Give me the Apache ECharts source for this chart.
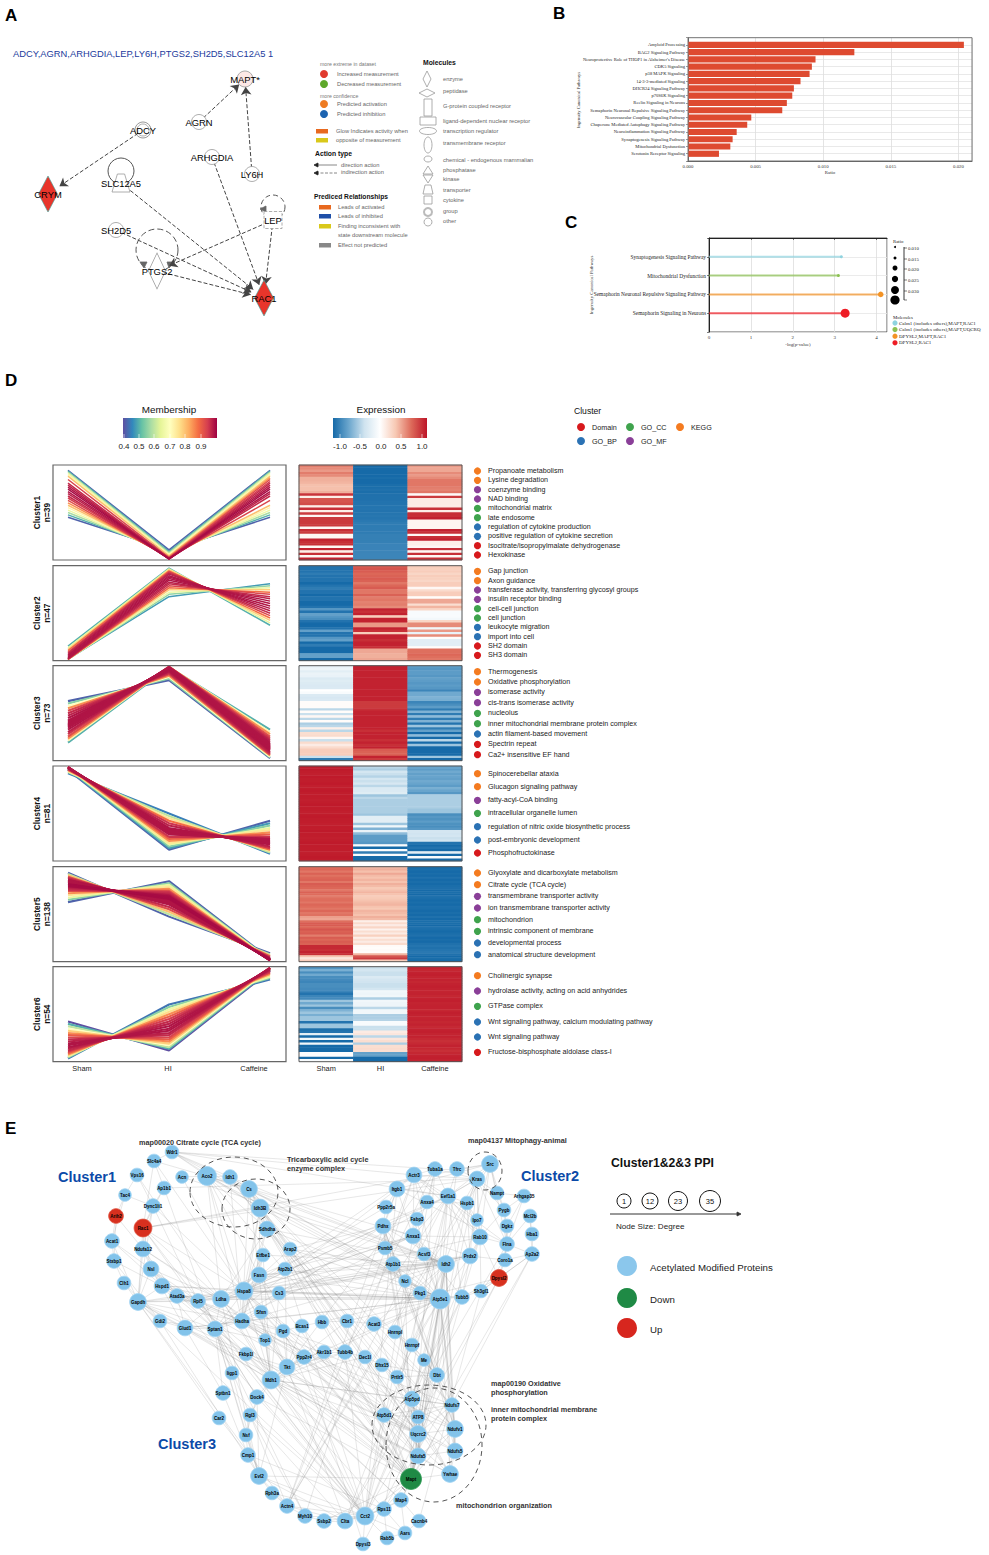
<!DOCTYPE html>
<html><head><meta charset="utf-8">
<script src="https://cdn.jsdelivr.net/npm/echarts@6/dist/echarts.min.js"></script>
<style>html,body{margin:0;padding:0;background:#fff}#c{width:989px;height:1555px}</style></head>
<body><div id="c"></div>
<script>
/* ---------- Panel A network ---------- */
const ipaNodes = [
 ['MAPT*',245,79,'m'],['AGRN',199,122,'o'],['ADCY',143,130,'g'],['ARHGDIA',212,157,'o'],['LY6H',252,174,'o'],
 ['CRYM',48,194,'r'],['SLC12A5',121,183,'t'],['SH2D5',116,230,'o'],['LEP',273,220,'c'],['PTGS2',157,271,'e'],['RAC1',264,298,'r']];
const ipaLinks = [[2,5],[1,0],[4,0],[3,10],[6,10],[7,10],[9,10],[8,10],[8,9]];
/* ---------- Panel B ---------- */
const pathwayNames = ['Amyloid Processing','BAG2 Signaling Pathway',"Neuroprotective Role of THOP1 in Alzheimer's Disease",'CDK5 Signaling','p38 MAPK Signaling','14-3-3-mediated Signaling','DHCR24 Signaling Pathway','p70S6K Signaling','Reelin Signaling in Neurons','Semaphorin Neuronal Repulsive Signaling Pathway','Neurovascular Coupling Signaling Pathway','Chaperone Mediated Autophagy Signaling Pathway','Neuroinflammation Signaling Pathway','Synaptogenesis Signaling Pathway','Mitochondrial Dysfunction','Serotonin Receptor Signaling'];
const pathwayRatios = [.0204,.0123,.00943,.00916,.00899,.00832,.00783,.00771,.00731,.00697,.00468,.00438,.0036,.0033,.00313,.00229];
/* ---------- Panel C ---------- */
const lolliNames = ['Synaptogenesis Signaling Pathway','Mitochondrial Dysfunction','Semaphorin Neuronal Repulsive Signaling Pathway','Semaphorin Signaling in Neurons'];
const lolliLogP = [3.16,3.09,4.1,3.25];
const lolliRatio = [.010,.010,.021,.034];
const lolliColors = ['#8fd3df','#8cc152','#f39325','#ee1c25'];
const lolliMolecules = ['Calm1 (includes others),MAPT,RAC1','Calm1 (includes others),MAPT,UQCRQ','DPYSL2,MAPT,RAC1','DPYSL2,RAC1'];
/* ---------- Panel D: profile lines [membership, Sham, HI, Caffeine] ---------- */
const lines1 = [[.42,1.05,-.93,-.12],[.5,1.03,-.97,-.06],[.58,1,-1,0],[.66,.97,-1.03,.06],[.72,.93,-1.05,.12],[.8,.9,-1.08,.18],[.93,.82,-1.12,.3],[.96,.73,-1.14,.41],[.97,.68,-1.15,.47],[.98,.63,-1.15,.52],[.99,.58,-1.15,.58],[.98,.52,-1.15,.63],[.97,.47,-1.15,.68],[.96,.41,-1.14,.73],[.94,.36,-1.13,.77],[.92,.3,-1.12,.82],[.85,.24,-1.1,.86],[.8,.18,-1.08,.9],[.72,.12,-1.05,.93],[.66,.06,-1.03,.97],[.58,0,-1,1],[.5,-.06,-.97,1.03],[.42,-.12,-.93,1.05]];
const lines2 = [[.5,-.82,1.12,-.3],[.65,-.86,1.1,-.24],[.78,-.9,1.08,-.18],[.88,-.93,1.05,-.12],[.93,-.97,1.03,-.06],[.96,-1,1,0],[.97,-1.03,.97,.06],[.98,-1.05,.93,.12],[.98,-1.08,.9,.18],[.98,-1.1,.86,.24],[.98,-1.12,.82,.3],[.97,-1.13,.77,.36],[.96,-1.14,.73,.41],[.93,-1.15,.68,.47],[.88,-1.15,.63,.52],[.78,-1.15,.58,.58],[.66,-1.15,.52,.63],[.56,-1.15,.47,.68],[.48,-1.14,.41,.73]];
const lines3 = [[.42,.3,.82,-1.12],[.55,.24,.86,-1.1],[.7,.18,.9,-1.08],[.85,.12,.93,-1.05],[.93,.06,.97,-1.03],[.96,0,1,-1],[.97,-.06,1.03,-.97],[.98,-.12,1.05,-.93],[.98,-.18,1.08,-.9],[.98,-.21,1.09,-.88],[.98,-.24,1.1,-.86],[.98,-.27,1.11,-.84],[.98,-.3,1.12,-.82],[.98,-.33,1.125,-.8],[.98,-.36,1.13,-.77],[.98,-.41,1.14,-.73],[.97,-.47,1.15,-.68],[.95,-.52,1.15,-.63],[.92,-.58,1.15,-.58],[.85,-.63,1.15,-.52],[.72,-.68,1.15,-.47],[.5,-.73,1.14,-.41]];
const lines4 = [[.45,1,0,-1],[.6,1.03,-.06,-.97],[.75,1.05,-.12,-.93],[.88,1.08,-.18,-.9],[.95,1.1,-.24,-.86],[.97,1.12,-.3,-.82],[.98,1.13,-.36,-.77],[.98,1.135,-.39,-.75],[.98,1.14,-.41,-.73],[.98,1.145,-.44,-.7],[.98,1.15,-.47,-.68],[.98,1.15,-.5,-.65],[.98,1.15,-.52,-.63],[.95,1.15,-.58,-.58],[.9,1.15,-.63,-.52],[.85,1.15,-.68,-.47],[.75,1.14,-.73,-.41],[.65,1.13,-.77,-.36],[.55,1.12,-.82,-.3],[.48,1.1,-.86,-.24],[.42,1.08,-.9,-.18]];
const lines5 = [[.42,1.03,-.06,-.97],[.6,1,0,-1],[.8,.97,.06,-1.03],[.92,.93,.12,-1.05],[.96,.9,.18,-1.08],[.98,.86,.24,-1.1],[.98,.84,.27,-1.11],[.98,.82,.3,-1.12],[.98,.8,.33,-1.13],[.98,.77,.36,-1.13],[.99,.75,.38,-1.13],[.99,.73,.41,-1.14],[.99,.7,.44,-1.14],[.98,.68,.47,-1.15],[.97,.66,.49,-1.15],[.96,.63,.52,-1.15],[.95,.6,.55,-1.15],[.92,.58,.58,-1.15],[.85,.52,.63,-1.15],[.75,.47,.68,-1.15],[.65,.41,.73,-1.14],[.55,.36,.77,-1.13],[.42,.3,.82,-1.12]];
const lines6 = [[.4,-.18,-.9,1.08],[.5,-.24,-.86,1.1],[.6,-.3,-.82,1.12],[.7,-.36,-.77,1.13],[.78,-.41,-.73,1.14],[.85,-.47,-.68,1.15],[.9,-.52,-.63,1.15],[.93,-.58,-.58,1.15],[.96,-.63,-.52,1.15],[.97,-.68,-.47,1.15],[.98,-.73,-.41,1.14],[.98,-.77,-.36,1.13],[.98,-.82,-.3,1.12],[.97,-.86,-.24,1.1],[.96,-.9,-.18,1.08],[.94,-.93,-.12,1.05],[.9,-.97,-.06,1.03],[.85,-1,0,1],[.76,-1.03,.06,.97],[.66,-1.05,.12,.93],[.55,-1.08,.18,.9],[.44,-1.1,.24,.86]];
/* ---------- Panel D: heat map rows ---------- */
const heat1Sham=[.6,.55,.5,.6,.55,.42,.42,.4,.36,.36,.36,.42,.88,.1,.75,.75,.78,.1,.9,.1,.85,.05,.85,.85,.85,.85,.05,.9,.85,.05,.05,.95,.9,.9,.05,.95,.1,.9,.05,.95];
const heat1HI=[-1,-1,-1,-1,-1,-.98,-1,-1,-.98,-.98,-.96,-.98,-.96,-.96,-.96,-.95,-.95,-.94,-.94,-.95,-.94,-.93,-.94,-.92,-.9,-.9,-.9,-.9,-.9,-.88,-.88,-.88,-.88,-.86,-.86,-.86,-.85,-.85,-.85,-.85];
const heat1Caf=[.5,.45,.45,.55,.5,.55,.62,.62,.62,.6,.58,.62,.03,.85,.12,.12,.12,.12,.9,.1,.9,.9,.95,.06,.06,.06,.06,.95,.9,.05,.9,.95,.1,.1,.05,.9,.05,.9,.05,.9];
const heat2Sham=[-.95,-.95,-.95,-.9,-.95,-.95,-.95,-1,-.95,-.9,-.95,-.95,-1,-.95,-.95,-1,-1,-.95,-.75,-.95,-.7,-.75,-.8,-.95,-1,-1,-.95,-.7,-.95,-.95,-.75,-.7,-1,-.9,-1,-1,-1,-.7,-.7,-1];
const heat2HI=[.72,.75,.72,.68,.7,.72,.7,.62,.68,.72,.62,.62,.7,.6,.62,.58,.6,.55,.95,.9,.95,.3,.95,.95,.5,.5,.95,.9,.3,.95,.95,.9,.95,.95,.9,.45,.45,.42,.42,.45];
const heat2Caf=[.3,.28,.3,.25,.3,.28,.25,.3,.3,.05,.22,.3,.3,.02,.45,.45,.2,.4,.25,-.05,-.05,-.05,-.08,.25,.55,.55,-.1,.5,-.15,.55,.02,-.2,-.2,-.2,.02,.65,.65,.68,.65,.62];
const heat3Sham=[-.15,-.12,-.2,-.14,-.15,-.25,-.22,-.24,-.26,-.25,0,-.05,-.25,-.28,-.26,.02,.02,.02,-.4,.02,-.35,.05,-.4,.02,-.45,-.4,.1,-.4,.2,.22,.05,-.35,.22,.12,.22,.3,.3,.3,-.35,-.9];
const heat3HI=[.95,.95,.95,.95,.95,.95,.95,.95,.95,.95,.95,.95,.95,.95,.95,.85,.85,.85,.9,.95,.95,.95,.95,.95,.95,.95,.95,.9,.95,.95,.95,.9,.95,.9,.95,.72,.7,.7,.95,.85];
const heat3Caf=[-.72,-.75,-.72,-.72,-.75,-.7,-.72,-.75,-.72,-.75,-.85,-.65,-.65,-.6,-.62,-.85,-.8,-.72,-.9,-.6,-.9,-.55,-.9,-.6,-.95,-.5,-.9,-.7,-1,-.55,-1,-.4,-1,-.5,-1,-1,-1,-1,-.5,-1];
const heat4Sham=[.97,.98,.97,.96,.98,.97,.97,.98,.96,.97,.98,.97,.97,.97,.96,.97,.98,.97,.97,.96,.97,.98,.97,.97,.96,.97,.97,.98,.97,.97,.96,.97,.98,.97,.97,.97,.96,.97,.98,.97];
const heat4HI=[-.4,-.45,-.3,-.35,-.42,-.3,-.35,-.28,-.4,-.25,-.25,-.22,-.5,-.4,-.45,-.45,-.45,-.45,-.45,-.45,-.5,-.2,-.2,-.2,-.5,-.1,-.6,-.15,-.55,-.72,-.72,-.72,-.75,-.05,-1,-.05,-.9,-.05,-1,-1];
const heat4Caf=[-.68,-.72,-.65,-.7,-.68,-.7,-.65,-.68,-.72,-.62,-.68,-.75,-.45,-.45,-.45,-.45,-.45,-.45,-.5,-.5,-.8,-.75,-.78,-.72,-.78,-.8,-.75,-.3,-.32,-.3,-.35,-.3,-.95,-1,-.95,-1,-.2,-1,-.05,-1];
const heat5Sham=[.66,.68,.62,.7,.64,.68,.7,.62,.72,.7,.68,.62,.7,.66,.6,.65,.66,.62,.68,.66,.62,.68,.62,.64,.48,.45,.65,.72,.72,.68,.75,.7,.72,.6,.72,.68,.72,.7,.92,.92,.9,.95,.9,.35,.15,.3];
const heat5HI=[.38,.42,.36,.45,.38,.35,.4,.35,.42,.38,.32,.36,.4,.35,.3,.32,.35,.38,.4,.35,.32,.4,.38,.35,.42,.38,.1,.22,.12,.25,.08,.2,.12,.28,.1,.2,.12,.22,.03,.02,.03,.02,.4,.75,.85,.3];
const heat5Caf=[-1,-.98,-1,-.98,-1,-.96,-1,-.98,-1,-.98,-.97,-1,-.98,-1,-.96,-.98,-1,-.98,-1,-.97,-.98,-1,-.98,-1,-.96,-1,-.98,-.98,-1,-.96,-.98,-1,-.98,-.96,-1,-.98,-1,-.96,-.94,-.96,-.94,-.92,-.96,-1,-.98,-1];
const heat6Sham=[-.8,-.62,-.8,-.65,-.8,-.82,-.85,-.8,-.8,-.82,-.85,-.95,-.85,-.82,-.5,-.65,-.5,-.8,-.6,-.5,-.62,-.5,-.5,-.95,-.5,-.5,-.98,-.95,-.2,-1,-.1,-1,-.1,-1,-1,-1,-.02,-.02,-1,-.05];
const heat6HI=[-.35,-.3,-.35,-.35,-.25,-.3,-.32,-.35,-.35,-.3,-.1,-.12,-.1,-.45,-.1,-.12,-.12,-.4,-.1,-.1,-.45,-.45,-.42,-.05,-.05,-.35,-.35,.12,.15,-.4,.15,.2,-.45,.2,.22,.2,-.7,-.7,-1,-1];
const heat6Caf=[.95,.93,.95,.96,.94,.95,.93,.95,.96,.95,.94,.95,.93,.95,.96,.94,.95,.95,.93,.96,.95,.94,.95,.93,.95,.92,.95,.96,.94,.95,.92,.9,.92,.95,.93,.9,.93,.95,.96,.95];
/* ---------- Panel D: enrichment terms [label, database] ---------- */
const terms1=[['Propanoate metabolism','K'],['Lysine degradation','K'],['coenzyme binding','M'],['NAD binding','M'],['mitochondrial matrix','C'],['late endosome','C'],['regulation of cytokine production','B'],['positive regulation of cytokine secretion','B'],['Isocitrate/isopropylmalate dehydrogenase','D'],['Hexokinase','D']];
const terms2=[['Gap junction','K'],['Axon guidance','K'],['transferase activity, transferring glycosyl groups','M'],['insulin receptor binding','M'],['cell-cell junction','C'],['cell junction','C'],['leukocyte migration','B'],['import into cell','B'],['SH2 domain','D'],['SH3 domain','D']];
const terms3=[['Thermogenesis','K'],['Oxidative phosphorylation','K'],['isomerase activity','M'],['cis-trans isomerase activity','M'],['nucleolus','C'],['inner mitochondrial membrane protein complex','C'],['actin filament-based movement','B'],['Spectrin repeat','D'],['Ca2+ insensitive EF hand','D']];
const terms4=[['Spinocerebellar ataxia','K'],['Glucagon signaling pathway','K'],['fatty-acyl-CoA binding','M'],['intracellular organelle lumen','C'],['regulation of nitric oxide biosynthetic process','B'],['post-embryonic development','B'],['Phosphofructokinase','D']];
const terms5=[['Glyoxylate and dicarboxylate metabolism','K'],['Citrate cycle (TCA cycle)','K'],['transmembrane transporter activity','M'],['ion transmembrane transporter activity','M'],['mitochondrion','C'],['intrinsic component of membrane','C'],['developmental process','B'],['anatomical structure development','B']];
const terms6=[['Cholinergic synapse','K'],['hydrolase activity, acting on acid anhydrides','M'],['GTPase complex','C'],['Wnt signaling pathway, calcium modulating pathway','B'],['Wnt signaling pathway','B'],['Fructose-bisphosphate aldolase class-I','D']];
const groupLabels=['Sham','HI','Caffeine'];
const clusterSizes=[39,47,73,81,138,54];
/* ---------- Panel E network: [name, layout x, layout y, degree size, group] ---------- */
const ppiNodes=[['Wdr1',172,1152,13],['Slc4a4',154,1161,13],['Vps16',137,1175,13],['Acn',182,1177,12],['Aco2',207,1176,18],['Idh1',230,1177,14],['Cs',249,1189,16],['Idh3B',260,1208,17],['Sdhdha',267,1229,15],['Ap1b1',164,1188,13],['Tac4',125,1195,12],['Dync1li1',153,1206,14],['Arih2',116,1216,14,'u'],['Rac1',143,1228,17,'u'],['Acat1',112,1241,14],['Ndufa12',143,1249,15],['Arap2',290,1249,13],['Etfbe1',263,1255,13],['Stxbp1',114,1261,14],['Nsl',151,1269,15],['Atp2b1',285,1269,13],['Fasn',259,1275,15],['Clh1',124,1283,13],['Hspd1',162,1286,15],['Cs3',279,1293,13],['Hspa8',244,1291,17],['Gapdh',138,1302,16],['Atad3a',177,1296,14],['Rpl5',198,1301,14],['Ldha',221,1299,16],['Sfxn',261,1312,13],['Gdi2',160,1321,13],['Glud1',185,1328,15],['Sptan1',215,1329,15],['Hadha',242,1321,15],['Pgd',283,1331,13],['Bcas1',302,1326,13],['Top1',265,1340,12],['Hbb',322,1322,13],['Cbr1',347,1321,13],['Acat3',374,1324,14],['Hnrnpl',395,1332,13],
['Src',490,1164,16],['Tfrc',457,1169,14],['Tuba1a',435,1169,14],['Actr3',414,1175,15],['Kras',477,1179,15],['Nampt',497,1193,13],['Arhgap35',524,1196,13],['Itgb1',397,1189,15],['Eef1a1',448,1196,15],['Anxa4',427,1202,13],['Hspb1',467,1203,13],['Ppp2r5a',386,1207,13],['Pygb',504,1210,13],['Mcl2b',530,1216,13],['Ipo7',477,1220,12],['Fabp3',417,1219,13],['Pdhx',383,1226,15],['Dgkz',507,1226,13],['Hba1',532,1234,13],['Anxa1',413,1236,15],['Rab10',480,1237,15],['Flna',507,1244,14],['Psmb5',385,1248,13],['Ap2a2',532,1254,14],['Acsf3',424,1254,13],['Prdx2',470,1256,15],['Coro1a',505,1260,13],['Atp1b1',393,1264,14],['Idh2',446,1264,16],['Dpysl2',499,1278,16,'u'],['Ncl',405,1281,12],['Sh3gl1',481,1291,13],['Pkg1',420,1293,13],['Atp5e1',440,1299,19],['Tubb5',462,1297,14],
['Fkbp1l',246,1354,13],['Ppp2r4',304,1357,14],['Akr1b1',324,1352,13],['Tubb4b',345,1352,14],['Dec1l',365,1357,13],['Dhx15',382,1365,13],['Hnrnpf',412,1345,13],['Me',424,1360,12],['Dbt',437,1375,14],['Prtlr5',397,1377,13],['Tkt',287,1367,15],['Mdh1',271,1380,17],['Iigp1',232,1373,13],['Sptbn1',223,1393,14],['Dock4',257,1397,14],['Car2',219,1418,13],['Rgl3',250,1415,13],['Nsf',246,1435,13],['Cmp1',248,1455,14],['Evl2',259,1476,16],['Rph3a',272,1493,13],['Actn4',287,1506,14],['Myh10',305,1516,14],['Ssbp2',324,1521,14],['Clta',345,1521,15],['Cct2',365,1516,17],['Dpysl3',363,1544,13],['Rps11',384,1509,14],['Rab5b',387,1538,13],['Aars',405,1533,13],['Map4',401,1500,14],['Cacnb4',419,1521,13],['Mapt',411,1479,20,'d'],['Ywhae',450,1474,16],['Ndufa5',418,1456,15],['Ndufs5',455,1451,15],['Uqcrc2',418,1434,16],['Ndufv1',455,1429,16],['ATP8',418,1417,13],['Atp5d1',384,1415,14],['Atp5pd',412,1399,15],['Ndufs7',452,1405,14]];
const ppiAdjacency=[[0,[1,4,5,6,7,45,44,50,75]],[1,[9,13,25,61]],[2,[10,11,29]],[3,[4,25,70]],[4,[5,6,7,8,29,34,70,75,25,113,21]],[5,[6,7,8,70,75,34,113]],[6,[7,8,21,34,70,75,85,109,113,118]],[7,[8,21,25,34,70,75,111,113,114,117]],[8,[25,29,34,70,75,109,111,112,114,118]],[9,[11,13,46,33]],[10,[12,14,11]],[11,[13,15,26,28,111]],[12,[14,15,18]],[13,[7,15,19,26,29,46,25,33,42,102]],[14,[18,19,23,26]],[15,[19,23,26,29,27,113]],[16,[7,25,58,69,75,110]],[17,[21,25,34,70,88]],[18,[22,23,31]],[19,[23,26,27,28,29,32,33,109]],[20,[25,75,61,87,102]],[21,[25,29,34,67,70,75,88,102,109]],[22,[26,31]],[23,[26,27,28,29,33,25,34,75,102]],[24,[25,29,70,75,88,67]],[25,[26,28,29,33,34,45,50,58,61,62,67,70,75,76,87,88,102,109,110,113]],[26,[27,28,29,31,32,33,34,88,102,98,113]],[27,[28,29,32,34,75,117,113]],[28,[29,33,34,50,102,104,80]],[29,[32,33,34,61,67,70,75,76,88,102,109,96]],[30,[34,88,87,78]],[31,[32,33,96]],[32,[33,34,75,88,113,111]],[33,[34,37,49,91,96,98,102,99,109,46,94]],[34,[35,37,58,70,75,88,113,114,118,112]],[35,[36,87,109]],[36,[38,87,109]],[37,[87,88]],[38,[39,71]],[39,[40,75,88]],[40,[41,75,70,113]],[41,[83,75,85]],[42,[43,46,47,54,49,50,62,109,98,63]],[43,[44,46,50,75]],[44,[45,46,50,80,102,109,87]],[45,[46,49,50,61,63,62,75,98,99]],[46,[47,50,52,54,56,62,67,63,98,101,109]],[47,[54,48]],[48,[54,59,63]],[49,[50,53,58,61,63,98,102]],[50,[52,56,61,62,67,75,76,102,104,80,109,98]],[51,[52,61,45,44]],[52,[56,62,67,109]],[53,[58,57,25]],[54,[59,62,63]],[55,[60,63,65]],[56,[62]],[57,[58,61,66]],[58,[61,64,69,70,75,113,114,118,85,111]],[59,[63,68]],[60,[65]],[61,[62,64,66,67,70,75,102,76,33]],[62,[63,67,71,73,76,102]],[63,[65,68,71,101]],[64,[69,70,75]],[65,[68,71,73,107,104]],[66,[70,75]],[67,[68,70,75,76]],[68,[71,73]],[69,[70,72,75,85,113]],[70,[72,74,75,85,86,111,112,113,114,117,118,110]],[71,[73,76,103,102]],[72,[74,75,109]],[73,[76,108]],[74,[75,83]],[75,[76,83,85,86,111,113,114,117,118,112,115,109,110,88,87]],[76,[102,101,109]],[77,[87,88,107,33]],[78,[79,87,88,109,103]],[79,[80,109]],[80,[81,102,109,87,88]],[81,[82,88,109]],[82,[86,85,110]],[83,[84,85]],[84,[85,117]],[85,[86,117,118,113,114,112]],[86,[117,110]],[87,[88,109,101,96]],[88,[91,93,109,102,107,110,113,117,111,118]],[89,[33,96]],[90,[33,32,95]],[91,[33,94,109,102,96]],[92,[26,95]],[93,[94,102,99,101]],[94,[95,96]],[95,[96,104]],[96,[97,98,102,101,109]],[97,[98,102]],[98,[99,102,101]],[99,[100,102]],[100,[101,102,109]],[101,[102,104]],[102,[103,104,105,107,109,106]],[104,[105,106,107,109]],[105,[106]],[106,[107,108]],[107,[108,109]],[109,[110,111,113,114,116,117,118]],[110,[111,112,114]],[111,[112,113,114,115,116,117]],[112,[113,114,118]],[113,[114,115,116,117,118]],[114,[115,117,118]],[115,[116,117,118]],[116,[117,118]],[117,[118]]];

/* ---------- build ---------- */
const SANS='"Liberation Sans",Arial,sans-serif', SERIF='"Liberation Serif",serif';
const SPECTRAL=['#5e4fa2','#3288bd','#66c2a5','#abdda4','#e6f598','#ffffbf','#fee08b','#fdae61','#f46d43','#d53e4f','#9e0142'];
const RDBU=['#166aa8','#6ba6cd','#cfe3ef','#ffffff','#f7c8b3','#dd6a5a','#bd1528'];
const DBCOLOR={K:'#f47b20',M:'#8a3f98',C:'#3fa34d',B:'#2b72b4',D:'#d7191c'};
function hex(c){return [1,3,5].map(i=>parseInt(c.substr(i,2),16));}
function spectral(m){const t=Math.max(0,Math.min(.9999,(m-.4)/.6))*(SPECTRAL.length-1),i=Math.floor(t),f=t-i,a=hex(SPECTRAL[i]),b=hex(SPECTRAL[i+1]);
 return 'rgb('+a.map((v,k)=>Math.round(v+(b[k]-v)*f)).join(',')+')';}
const g=[];
function T(x,y,text,size,o){o=o||{};g.push({type:'text',silent:true,z:o.z||50,rotation:o.rot||0,x:o.rot?x:0,y:o.rot?y:0,style:{x:o.rot?0:x,y:o.rot?0:y,text,fontSize:size,fontFamily:o.f||SANS,fontWeight:o.w||'normal',fill:o.c||'#222',textAlign:o.a||'left',textVerticalAlign:'middle'}});}
function circ(x,y,r,fill,o){o=o||{};g.push({type:'circle',silent:true,z:o.z||40,shape:{cx:x,cy:y,r},style:{fill,stroke:o.s||null,lineWidth:o.lw||1,lineDash:o.d||null}});}
function ell(x,y,rx,ry,o){o=o||{};g.push({type:'ellipse',silent:true,z:o.z||40,shape:{cx:x,cy:y,rx,ry},style:{fill:o.fill||'none',stroke:o.s||'#555',lineWidth:o.lw||1,lineDash:o.d||null}});}
function rect(x,y,w,h,fill,o){o=o||{};g.push({type:'rect',silent:true,z:o.z||40,shape:{x,y,width:w,height:h},style:{fill,stroke:o.s||null,lineWidth:o.lw||1}});}
function poly(pts,o){o=o||{};g.push({type:'polygon',silent:true,z:o.z||40,shape:{points:pts},style:{fill:o.fill||'#fff',stroke:o.s||'#999',lineWidth:o.lw||.8}});}
function seg(x1,y1,x2,y2,c,lw,o){o=o||{};g.push({type:'line',silent:true,z:o.z||40,shape:{x1,y1,x2,y2},style:{stroke:c,lineWidth:lw,lineDash:o.d||null}});}

/* panel letters */
T(5,15,'A',17,{w:'bold',c:'#000'});T(553,13,'B',17,{w:'bold',c:'#000'});T(565,222,'C',17,{w:'bold',c:'#000'});T(5,380,'D',17,{w:'bold',c:'#000'});T(5,1128,'E',17,{w:'bold',c:'#000'});

/* panel A decoration */
T(13,54,'ADCY,AGRN,ARHGDIA,LEP,LY6H,PTGS2,SH2D5,SLC12A5 1',9.35,{c:'#1a3a9c'});
circ(121,171,13,'none',{s:'#555',z:1});circ(273,207,12,'none',{s:'#555',d:[5,3],z:1});circ(157,250,21,'none',{s:'#555',d:[6,3],z:1});
circ(143,130,8,'#fff',{s:'#999',z:1});
poly([[260,209],[266,206],[266,212]],{fill:'#666',s:'#666',z:3});poly([[140,262],[147,262],[144,268]],{fill:'#666',s:'#666',z:3});poly([[167,262],[174,262],[169,268]],{fill:'#666',s:'#666',z:3});
const G='#666', LEG=5.72;
T(320,64,'more extreme in dataset',5.2,{c:'#777'});T(320,96,'more confidence',5.2,{c:'#777'});
[[74,'#e03a2e','Increased measurement'],[84,'#5ea82a','Decreased measurement'],[104,'#ee7b22','Predicted activation'],[114,'#1c63b0','Predicted inhibition']].forEach(d=>{circ(324,d[0],4,d[1]);T(337,d[0],d[2],LEG,{c:G});});
rect(316,129,12,4.5,'#e8691f');rect(316,138,12,4.5,'#d9c81a');T(336,131,'Glow Indicates activity when',LEG,{c:G});T(336,140,'opposite of measurement',LEG,{c:G});
T(315,153,'Action type',6.8,{w:'bold',c:'#111'});
seg(316,165,337,165,'#888',1);poly([[314,165],[318,163],[318,167]],{fill:'#222',s:'#222'});T(341,165,'direction action',LEG,{c:G});
seg(316,173,337,173,'#888',1,{d:[3,1.5]});poly([[314,173],[318,171],[318,175]],{fill:'#222',s:'#222'});T(341,172,'indirection action',LEG,{c:G});
T(314,196,'Prediced Relationships',6.7,{w:'bold',c:'#111'});
[[207,'#e8691f','Leads of activated'],[216,'#1f4fa8','Leads of inhibited'],[226,'#d9c81a','Finding inconsistent with'],[245,'#888','Effect not predicted']].forEach(d=>{rect(319,d[0]-2,12,4.5,d[1]);T(338,d[0]-.5,d[2],LEG,{c:G});});
T(338,235,'state downstream molecule',LEG,{c:G});
T(423,62,'Molecules',6.8,{w:'bold',c:'#111'});
[[79,'enzyme'],[91,'peptidase'],[106,'G-protein coupled receptor'],[121,'ligand-dependent nuclear receptor'],[131,'transcription regulator'],[143,'transmembrane receptor'],[160,'chemical - endogenous mammalian'],[170,'phosphatase'],[179,'kinase'],[190,'transporter'],[200,'cytokine'],[211,'group'],[221,'other']].forEach(d=>T(443,d[0],d[1],LEG,{c:G}));
poly([[427,71],[431,79],[427,87],[423,79]]);poly([[419,93],[427,89],[435,93],[427,97]]);rect(424,99,8,17,'#fff',{s:'#999',lw:.8});rect(420,117,16,8,'#fff',{s:'#999',lw:.8});
ell(428,131,8.5,3.5,{s:'#999',lw:.8});ell(428,145,4,8,{s:'#999',lw:.8});ell(428,159,4,3,{s:'#999',lw:.8});
poly([[428,166],[433,174],[423,174]]);poly([[423,175],[433,175],[428,183]]);poly([[425,185],[431,185],[433,194],[423,194]]);rect(424,196,8,8,'#fff',{s:'#999',lw:.8});
circ(428,212,4,'#fff',{s:'#bbb',lw:2});circ(428,222,4,'#fff',{s:'#999',lw:.8});

/* panel B frame / C legends */
rect(688,37.7,284,123.3,'none',{s:'#777',lw:1});
T(578,100,'Ingenuity Canonical Pathways',4.6,{f:SERIF,rot:Math.PI/2,a:'center',c:'#333'});
T(591,285,'Ingenuity Canonical Pathways',4.8,{f:SERIF,rot:Math.PI/2,a:'center',c:'#333'});
T(893,241,'Ratio',4.8,{f:SERIF,c:'#222'});
[[247,1],[258,1.5],[268,2.5],[279,3.1],[290,4],[300,4.6]].forEach(d=>circ(895,d[0],d[1],'#000'));
seg(904,247,904,300,'#222',.9);[[248,'0.010'],[259,'0.015'],[269,'0.020'],[280,'0.025'],[291,'0.030']].forEach(d=>{seg(904,d[0],907,d[0],'#222',.6);T(908,d[0],d[1],4.8,{f:SERIF});});seg(904,300,907,300,'#222',.6);
T(893,317,'Molecules',4.8,{f:SERIF});
lolliMolecules.forEach((m,i)=>{circ(895,323+i*6.6,2.6,lolliColors[i]);T(899,323+i*6.6,m,5,{f:SERIF});});

/* panel D colour bars and legend */
T(169,409,'Membership',9.9,{a:'center',c:'#111'});T(381,409,'Expression',9.9,{a:'center',c:'#111'});
const grad=(cols)=>({type:'linear',x:0,y:0,x2:1,y2:0,colorStops:cols.map((c,i)=>({offset:i/(cols.length-1),color:c}))});
rect(123,418,94,20,grad(SPECTRAL));rect(333,418,94,20,grad(RDBU));
[['0.4',124],['0.5',139],['0.6',154],['0.7',170],['0.8',185],['0.9',201]].forEach(d=>{T(d[1],446,d[0],8,{a:'center'});seg(d[1],434,d[1],438,'#fff',.6,{z:41});});
[['-1.0',340],['-0.5',360],['0.0',381],['0.5',401],['1.0',422]].forEach(d=>{T(d[1],446,d[0],8,{a:'center'});seg(d[1],434,d[1],438,'#fff',.6,{z:41});});
T(574,411,'Cluster',8.6,{c:'#111'});
[[581,427,'Domain','D'],[581,441,'GO_BP','B'],[630,427,'GO_CC','C'],[630,441,'GO_MF','M'],[680,427,'KEGG','K']].forEach(d=>{circ(d[0],d[1],4,DBCOLOR[d[3]]);T(d[0]+11,d[1],d[2],7.2);});
const termY=[[471,480.3,489.7,499,508.3,517.7,527,536.3,545.7,555],[571.3,580.7,590,599.3,608.7,618,627.3,636.7,646,655.3],[671.7,682,692.3,702.7,713.3,723.7,734,744.3,754.7],[773.7,786.7,800.3,813.3,826.7,840,853],[873,884.7,896.3,908,919.7,931.3,943,954.7],[975.7,991,1006.3,1022,1037,1052.3]];
[terms1,terms2,terms3,terms4,terms5,terms6].forEach((ts,c)=>ts.forEach((t,i)=>{circ(477.5,termY[c][i],3.6,DBCOLOR[t[1]]);T(488,termY[c][i],t[0],7.15,{c:'#222'});}));

/* panel E annotations */
const NOTE='#333', NS=7.25;
ell(234,1192,44,35,{d:[5,4]});ell(256,1209,34,30,{d:[5,4]});ell(485,1171,17,19,{d:[5,4]});ell(429,1425,57,40,{d:[5,4]});ell(434,1445,48,57,{d:[5,4]});
T(139,1142,'map00020 Citrate cycle (TCA cycle)',NS,{w:'bold',c:NOTE});
T(287,1159,'Tricarboxylic acid cycle',NS,{w:'bold',c:NOTE});T(287,1168,'enzyme complex',NS,{w:'bold',c:NOTE});
T(468,1140,'map04137 Mitophagy-animal',NS,{w:'bold',c:NOTE});
T(491,1383,'map00190 Oxidative',NS,{w:'bold',c:NOTE});T(491,1392,'phosphorylation',NS,{w:'bold',c:NOTE});
T(491,1409,'inner mitochondrial membrane',NS,{w:'bold',c:NOTE});T(491,1418,'protein complex',NS,{w:'bold',c:NOTE});
T(456,1505,'mitochondrion organization',NS,{w:'bold',c:NOTE});
T(58,1177,'Cluster1',14.5,{w:'bold',c:'#0b4aa8'});T(521,1176,'Cluster2',14.5,{w:'bold',c:'#0b4aa8'});T(158,1444,'Cluster3',14.5,{w:'bold',c:'#0b4aa8'});
T(611,1163,'Cluster1&2&3 PPI',12.2,{w:'bold',c:'#111'});
[[624,7,'1'],[650,8,'12'],[678,9.5,'23'],[710,10.5,'35']].forEach(d=>{circ(d[0],1201,d[1],'#fff',{s:'#111',lw:1});T(d[0],1201,d[2],7.5,{a:'center',c:'#111'});});
seg(610,1214,738,1214,'#333',1);poly([[741,1214],[737,1212],[737,1216]],{fill:'#333',s:'#333'});
T(616,1226,'Node Size: Degree',8.1,{c:'#222'});
[[1266,'#8bc7ec','Acetylated Modified Proteins'],[1298,'#1f8a45','Down'],[1328,'#d7261e','Up']].forEach(d=>{circ(627,d[0],10,d[1]);T(650,d[0]+1,d[2],9.7,{c:'#222'});});

/* axes, grids, series */
const grids=[{left:0,top:0,width:989,height:1555,show:false}], xA=[{type:'value',gridIndex:0,min:0,max:989,show:false}], yA=[{type:'value',gridIndex:0,min:0,max:1555,inverse:true,show:false}], series=[];
/* A network */
const ipaStyle={m:{symbol:'circle',symbolSize:16,itemStyle:{color:'#fde8e6',borderColor:'#aaa',borderWidth:1}},o:{symbol:'circle',symbolSize:15,itemStyle:{color:'#fff',borderColor:'#999',borderWidth:.8}},g:{symbol:'circle',symbolSize:12,itemStyle:{color:'#fff',borderColor:'#999',borderWidth:.8}},
 r:{symbol:'diamond',symbolSize:[19,36],itemStyle:{color:'#e8352b',borderColor:'#3fa7a0',borderWidth:.6}},e:{symbol:'diamond',symbolSize:[17,36],itemStyle:{color:'#fff',borderColor:'#999',borderWidth:.8}},
 t:{symbol:'path://M3,0 L7,0 L10,10 L0,10 Z',symbolSize:[18,18],itemStyle:{color:'#fff',borderColor:'#999',borderWidth:.8}},c:{symbol:'rect',symbolSize:[18,17],itemStyle:{color:'#fff',borderColor:'#999',borderWidth:.8,borderType:'dashed'}}};
series.push({type:'graph',coordinateSystem:'cartesian2d',xAxisIndex:0,yAxisIndex:0,layout:'none',silent:true,animation:false,z:5,
 data:ipaNodes.map(n=>Object.assign({name:n[0],value:[n[1],n[2]]},ipaStyle[n[3]])),
 links:ipaLinks.map(l=>({source:l[0],target:l[1]})),edgeSymbol:['none','arrow'],edgeSymbolSize:8,
 lineStyle:{color:'#444',width:1,type:'dashed',opacity:1},
 label:{show:true,position:'inside',fontSize:9.4,color:'#000',fontFamily:SANS}});
/* E network */
const ppiColor={u:['#d7301f','#e0503c'],d:['#1f8a45','#2a9a52']};
const ppiLinks=[];ppiAdjacency.forEach(a=>a[1].forEach(t=>ppiLinks.push({source:a[0],target:t})));
series.push({type:'graph',coordinateSystem:'cartesian2d',xAxisIndex:0,yAxisIndex:0,layout:'none',silent:true,animation:false,z:3,
 data:ppiNodes.map(n=>{const c=ppiColor[n[4]]||['#82c3ea','#a3d4f2'];return {name:n[0],value:[n[1],n[2]],symbolSize:n[3]*1.05,itemStyle:{color:c[0],borderColor:c[1],borderWidth:.8}};}),
 links:ppiLinks,lineStyle:{color:'#808080',width:.6,opacity:.32},
 label:{show:true,position:'inside',fontSize:4.5,fontWeight:'bold',color:'#000',fontFamily:SANS}});
/* B */
grids.push({left:688,top:37.7,width:284,height:123.3,show:false});
xA.push({type:'value',gridIndex:1,min:0,max:.021,interval:.005,axisLine:{show:true,lineStyle:{color:'#333',width:.8}},axisTick:{length:2,lineStyle:{color:'#333',width:.5}},axisLabel:{fontSize:4.8,fontFamily:SERIF,color:'#333',margin:3,showMaxLabel:false,formatter:v=>v.toFixed(3)},splitLine:{show:true,lineStyle:{color:'#ddd',width:.8}},name:'Ratio',nameLocation:'middle',nameGap:9,nameTextStyle:{fontSize:4.8,fontFamily:SERIF,color:'#333'}});
yA.push({type:'category',gridIndex:1,inverse:true,boundaryGap:false,data:[''].concat(pathwayNames,['']),axisLine:{show:true,lineStyle:{color:'#333',width:.8}},axisTick:{length:2,lineStyle:{color:'#333',width:.5}},axisLabel:{fontSize:4.55,fontFamily:SERIF,color:'#222',margin:3,interval:0},splitLine:{show:true,lineStyle:{color:'#e3e3e3',width:.8}}});
series.push({type:'bar',xAxisIndex:1,yAxisIndex:1,barWidth:6.2,silent:true,animation:false,z:3,itemStyle:{color:'#de4a30'},data:[null].concat(pathwayRatios,[null])});
/* C */
grids.push({left:709,top:238,width:178,height:94,show:true,borderColor:'#333',borderWidth:.8});
xA.push({type:'value',gridIndex:2,min:0,max:4.25,interval:1,axisLine:{show:true,lineStyle:{color:'#222',width:1}},axisTick:{length:2,lineStyle:{color:'#222',width:.6}},axisLabel:{fontSize:5,fontFamily:SERIF,color:'#333',margin:3,showMaxLabel:false},splitLine:{show:true,lineStyle:{color:'#ddd',width:.8}},name:'-log(p-value)',nameLocation:'middle',nameGap:10,nameTextStyle:{fontSize:4.8,fontFamily:SERIF,color:'#333'}});
yA.push({type:'value',gridIndex:2,inverse:true,min:0,max:5,interval:1,axisLine:{show:true,lineStyle:{color:'#222',width:1}},axisTick:{length:2,lineStyle:{color:'#222',width:.6}},axisLabel:{fontSize:5.4,fontFamily:SERIF,color:'#222',margin:3,formatter:v=>lolliNames[v-1]||''},splitLine:{show:true,lineStyle:{color:'#e6e6e6',width:.8}}});
lolliLogP.forEach((v,i)=>series.push({type:'line',xAxisIndex:2,yAxisIndex:2,silent:true,animation:false,showSymbol:true,showAllSymbol:true,symbol:'circle',clip:false,z:4,
 lineStyle:{color:lolliColors[i],width:2,opacity:.7},itemStyle:{color:lolliColors[i]},
 data:[{value:[0,i+1],symbolSize:0},{value:[v,i+1],symbolSize:[3,3,5.5,9][i]}]}));
/* D */
const boxTops=[465,565.7,665.7,766,866.7,966.7];
const allLines=[lines1,lines2,lines3,lines4,lines5,lines6];
const heatCols=[[heat1Sham,heat1HI,heat1Caf],[heat2Sham,heat2HI,heat2Caf],[heat3Sham,heat3HI,heat3Caf],[heat4Sham,heat4HI,heat4Caf],[heat5Sham,heat5HI,heat5Caf],[heat6Sham,heat6HI,heat6Caf]];
const heatSeries=[];
boxTops.forEach((top,c)=>{
 const gi=grids.length;
 grids.push({left:53,top,width:233,height:95,show:true,borderColor:'#666',borderWidth:1.2});
 xA.push({type:'value',gridIndex:gi,min:-.1485,max:2.158,show:false});
 yA.push({type:'value',gridIndex:gi,min:-1.18,max:1.18,axisLine:{show:false},axisTick:{show:false},axisLabel:{show:false},splitLine:{show:false},name:'Cluster'+(c+1)+'\nn='+clusterSizes[c],nameLocation:'middle',nameRotate:90,nameGap:1,nameTextStyle:{fontSize:8.4,fontWeight:'bold',color:'#111',fontFamily:SANS,lineHeight:10}});
 allLines[c].slice().sort((a,b)=>a[0]-b[0]).forEach(l=>series.push({type:'line',xAxisIndex:gi,yAxisIndex:gi,silent:true,animation:false,showSymbol:false,z:3,lineStyle:{color:spectral(l[0]),width:c<2?1.5:2.1},data:[[0,l[1]],[1,l[2]],[2,l[3]]]}));
 const gh=grids.length;
 grids.push({left:299,top,width:163,height:95,show:false});
 const rows=heatCols[c][0].map((_,i)=>i);
 xA.push({type:'category',gridIndex:gh,data:groupLabels,axisLine:{show:false},axisTick:{show:false},splitLine:{show:false},axisLabel:{show:c===5,fontSize:7.4,color:'#222',margin:3,fontFamily:SANS}});
 yA.push({type:'category',gridIndex:gh,data:rows,inverse:true,show:false});
 const data=[];heatCols[c].forEach((col,x)=>col.forEach((v,y)=>data.push([x,y,v])));
 heatSeries.push(series.length);
 series.push({type:'heatmap',xAxisIndex:gh,yAxisIndex:gh,silent:true,animation:false,progressive:0,data});
 rect(299,top,163,95,'none',{s:'#555',lw:1,z:60});
});
const gl=grids.length;
grids.push({left:82,top:1062,width:172,height:1,show:false});
xA.push({type:'category',gridIndex:gl,boundaryGap:false,data:groupLabels,axisLine:{show:false},axisTick:{show:false},axisLabel:{fontSize:7.4,color:'#222',margin:2,interval:0,fontFamily:SANS}});
yA.push({type:'value',gridIndex:gl,show:false});

const chart=echarts.init(document.getElementById('c'),null,{renderer:'svg',width:989,height:1555});
chart.setOption({animation:false,backgroundColor:'#fff',grid:grids,xAxis:xA,yAxis:yA,series,graphic:g,
 visualMap:[{type:'continuous',show:false,min:-1,max:1,dimension:2,seriesIndex:heatSeries,inRange:{color:RDBU}}]});
</script></body></html>
